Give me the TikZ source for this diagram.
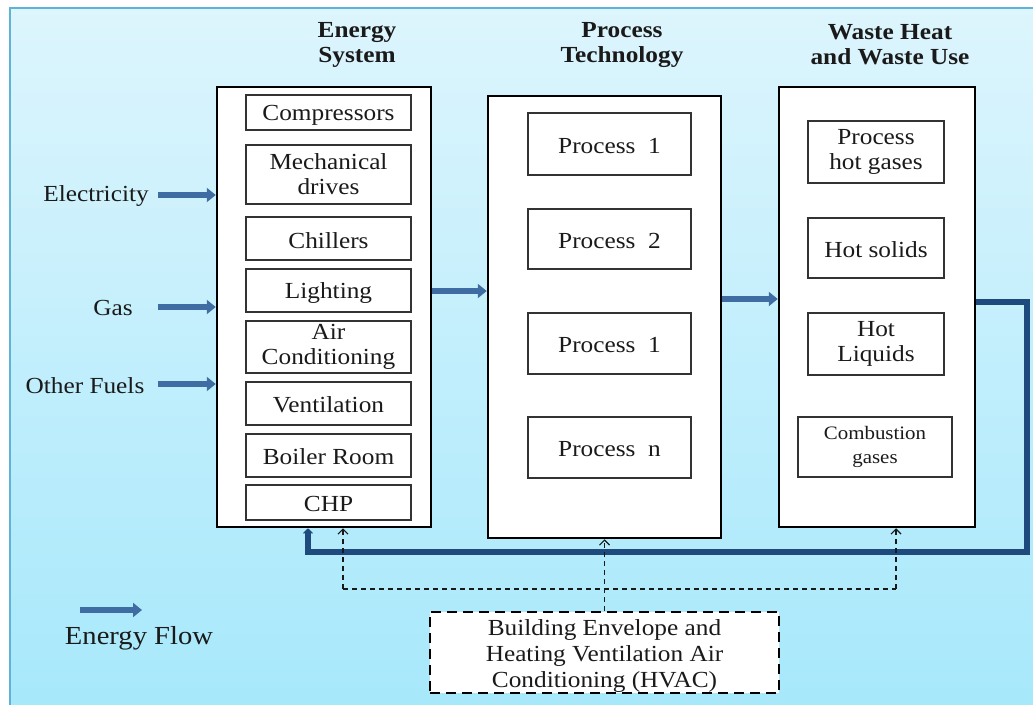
\documentclass[tikz,border=0pt]{standalone}
\usepackage{fontspec}
\setmainfont[FakeStretch=1.1]{Liberation Serif}
\usetikzlibrary{arrows.meta,calc}
\definecolor{flowblue}{HTML}{3F6CA3}
\definecolor{retblue}{HTML}{1F4A7E}
\definecolor{bgtop}{HTML}{DDF5FD}
\definecolor{bgbot}{HTML}{A6E8FB}
\definecolor{bgedge}{HTML}{5FB3D5}
\definecolor{ink}{HTML}{1A1A1A}
\tikzset{
  txt/.style={font=\fontsize{23}{25}\selectfont, text=ink, align=center, inner sep=0pt},
  head/.style={font=\fontsize{23}{25}\selectfont\bfseries, text=ink, align=center, inner sep=0pt},
  bigbox/.style={draw=black, line width=2.5pt, fill=white},
  subbox/.style={draw=black!80, line width=1.3pt, fill=white, txt},
  flow/.style={draw=flowblue, line width=6pt, -{Triangle[length=9pt,width=14pt]}},
  ret/.style={draw=retblue, line width=6pt, -{Triangle[length=5pt,width=10pt]}},
  dashln/.style={draw=black!90, line width=1.2pt, dash pattern=on 5pt off 4pt},
  dasharr/.style={dashln, -{Straight Barb[length=5pt,width=10pt]}},
  lbl/.style={text=ink, inner sep=0pt},
}
\begin{document}
\begin{tikzpicture}[x=1pt,y=-1pt]
\path[use as bounding box] (0,0) rectangle (1033,704);
\clip (0,0) rectangle (1033,704);
% background panel
\shade[top color=bgtop, bottom color=bgbot] (10,8) rectangle (1045,716);
\draw[bgedge, line width=1.5pt] (10,716) -- (10,8) -- (1045,8);

% headings
\node[head] (h1) at (357,45) {Energy\\System};
\node[head] (h2) at (622,45) {Process\\Technology};
\node[head] (h3) at (890,45) {Waste Heat\\and Waste Use};

% big boxes
\node[bigbox, minimum width=214, minimum height=440] (es) at (324,307) {};
\node[bigbox, minimum width=233, minimum height=442] (pt) at (604.5,317) {};
\node[bigbox, minimum width=196, minimum height=440] (wh) at (877,307) {};

% energy system sub boxes
\node[subbox, minimum width=165, minimum height=35] (c1) at (328.5,112.5) {};
\node[txt] at ([yshift=-2.5pt]c1.center) {Compressors};
\node[subbox, minimum width=165, minimum height=59] (c2) at (328.5,174.5) {Mechanical\\drives};
\node[subbox, minimum width=165, minimum height=43] (c3) at (328.5,238.5) {};
\node[txt] at ([yshift=-2pt]c3.center) {Chillers};
\node[subbox, minimum width=165, minimum height=43] (c4) at (328.5,290.5) {};
\node[txt] at ([yshift=-2pt]c4.center) {Lighting};
\node[subbox, minimum width=165, minimum height=52] (c5) at (328.5,347) {Air\\Conditioning};
\node[subbox, minimum width=165, minimum height=43] (c6) at (328.5,403.5) {};
\node[txt] at ([yshift=-1.5pt]c6.center) {Ventilation};
\node[subbox, minimum width=165, minimum height=43] (c7) at (328.5,455.5) {};
\node[txt] at ([yshift=-1.5pt]c7.center) {Boiler Room};
\node[subbox, minimum width=165, minimum height=35] (c8) at (328.5,502.5) {};
\node[txt] at ([yshift=-1.5pt]c8.center) {CHP};

% process boxes
\node[subbox, minimum width=163, minimum height=62] (p1) at (609.5,144) {};
\node[txt] at ([yshift=-2pt]p1.center) {Process\ \ 1};
\node[subbox, minimum width=163, minimum height=60] (p2) at (609.5,239) {};
\node[txt] at ([yshift=-2pt]p2.center) {Process\ \ 2};
\node[subbox, minimum width=163, minimum height=61] (p3) at (609.5,343.5) {};
\node[txt] at ([yshift=-2pt]p3.center) {Process\ \ 1};
\node[subbox, minimum width=163, minimum height=61] (p4) at (609.5,447.5) {};
\node[txt] at ([yshift=-2pt]p4.center) {Process\ \ n};

% waste boxes
\node[subbox, minimum width=136, minimum height=62] (w1) at (876,152) {Process\\hot gases};
\node[subbox, minimum width=136, minimum height=60] (w2) at (876,248) {};
\node[txt] at ([yshift=-2pt]w2.center) {Hot solids};
\node[subbox, minimum width=136, minimum height=62] (w3) at (876,344) {Hot\\Liquids};
\node[subbox, minimum width=154, minimum height=60, font=\fontsize{19}{24}\selectfont] (w4) at (875,447) {Combustion\\gases};

% inputs
\node[txt] (elec) at (96,195.5) {Electricity};
\node[txt] (gas) at (113,308) {Gas};
\node[txt] (oth) at (85,385.5) {Other Fuels};
\coordinate (e0) at (158,195);
\coordinate (g0) at (158,307);
\coordinate (o0) at (158,384);
\draw[flow] (e0) -- (e0 -| es.west);
\draw[flow] (g0) -- (g0 -| es.west);
\draw[flow] (o0) -- (o0 -| es.west);

% flows between boxes
\draw[flow] ([yshift=16pt]es.east) -- ([yshift=16pt]es.east -| pt.west);
\draw[flow] ([yshift=18pt]pt.east) -- ([yshift=18pt]pt.east -| wh.west);

% return line
\coordinate (r1) at (1027,302);
\coordinate (r2) at (1027,552);
\coordinate (r3) at (308,552);
\draw[ret] (wh.east |- r1) -- (r1) -- (r2) -- (r3) -- (r3 |- es.south);

% HVAC
\node[draw=black, fill=white, line width=2.5pt, dash pattern=on 10pt off 6pt, minimum width=349, minimum height=81] (hv) at (604.5,652.5) {};
\node[txt, font=\fontsize{23}{26}\selectfont] at ([yshift=-3pt]hv.center) {Building Envelope and\\Heating Ventilation Air\\Conditioning (HVAC)};
\coordinate (hl) at (343,589);
\coordinate (hr) at (896,589);
\draw[dashln] (hl) -- (hr);
\draw[dasharr] (hv.north) -- (hv.north |- pt.south);
\draw[dasharr] (hl) -- (hl |- es.south);
\draw[dasharr] (hr) -- (hr |- wh.south);

% legend
\coordinate (lg) at (80,610);
\draw[flow] (lg) -- ++(62,0);
\node[txt, font=\fontsize{26}{28}\selectfont] (lgt) at (139,638) {Energy Flow};
\end{tikzpicture}
\end{document}
